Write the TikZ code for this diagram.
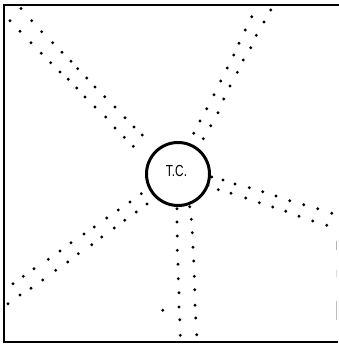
\documentclass[tikz,border=0pt]{standalone}
\usepackage{fontspec}
\setmainfont{Liberation Sans}
\begin{document}
\begin{tikzpicture}[x=1pt,y=-1pt,
  dotmark/.style={fill=black,draw=none},
  frameline/.style={line width=2.8pt,line cap=rect},
  tcbox/.style={circle,draw,line width=3pt,minimum size=63pt,inner sep=0pt}]
\useasboundingbox (0,0) rectangle (338,344);
% frame
\draw[frameline] (4,342) -- (4,5) -- (338,5);
\draw[line width=2.2pt] (3,342) -- (338,342);
\draw[gray!60,line width=1pt] (336.5,241) -- (336.5,250);
\draw[gray!30,line width=0.8pt] (336.5,270) -- (336.5,277);
\draw[gray!50,line width=1pt] (336.5,301) -- (336.5,320);
% central node
\node[tcbox] (tc) at (178,174) {};
\node (tclabel) at (176.5,171) {\fontsize{16}{16}\selectfont\scalebox{0.74}[1]{T.C.}};
% dots
\foreach \p in {
 % upper-left, outer row
 (31.7,20.7),(41.7,31.7),(52.7,42.7),(62,52.3),(71,61.3),(77.7,68.7),(86.7,78),(95,87),(104.7,96.7),(115,107),(125,117.7),(134,127),(142.3,135),
 % upper-left, inner row
 (10,20.7),(20,31.3),(31,42.7),(41.3,53.3),(50.7,62.7),(60,72),(68.3,79.3),(76.7,88),(85,97),(95,107),(105.7,117),(115,128),(124.3,137.3),(133.3,146.3),
 (21,8.5),
 % upper-right
 (270.7,10),(264,22),(256.3,35.3),(250.7,47.7),(243.3,60),(237.3,72.3),(230,86),(223.7,99),(218,112.7),(210.7,125.7),(203.3,138.7),
 (251.7,16.7),(245.3,30),(239,43.3),(233.7,55),(227.3,68),(220.7,81),(214,94.7),(206.7,108.7),(200,121),(193.7,133.3),
 % lower-left
 (141.3,193.7),(130,202),(118.3,210),(106.7,218),(94.3,227),(84,234),(71,242.7),(60,251),(48.3,259.3),(34,268.7),(23.3,276.3),(13,283.7),
 (147,204),(136.3,212),(124.7,220.3),(114.3,228),(101.7,237),(91.7,244.7),(78.3,253.7),(67.7,262),(55.7,270.3),(42.7,280),(31,288.3),(20,295),(8,303.7),
 (162.7,310.3),
 % right
 (211.7,177),(223,180),(235,184),(249.3,187.7),(262.7,191.7),(276,196),(289.7,200.7),(303.7,204.7),(317.7,208.7),(331.7,213.3),
 (208,185.3),(218.3,189.7),(231,193.3),(245.7,198),(259.3,202.7),(272.7,207),(285.7,211.3),(299,216.3),(312.7,221),(326.7,225.3),
 % down
 (177,208.7),(177,222),(177.3,236),(177.3,250.3),(178,264.3),(178.3,278.7),(179,292.7),(179,307),(179.7,319.7),(180.3,335.3),
 (189.7,206.7),(191.3,219.3),(192.3,232.7),(193,247.3),(193.7,261),(194.3,276.3),(194.7,289.7),(195,305.3),(195.7,318),(196.7,334.7)}
 \fill[dotmark] \p circle (1.6);
\end{tikzpicture}
\end{document}
